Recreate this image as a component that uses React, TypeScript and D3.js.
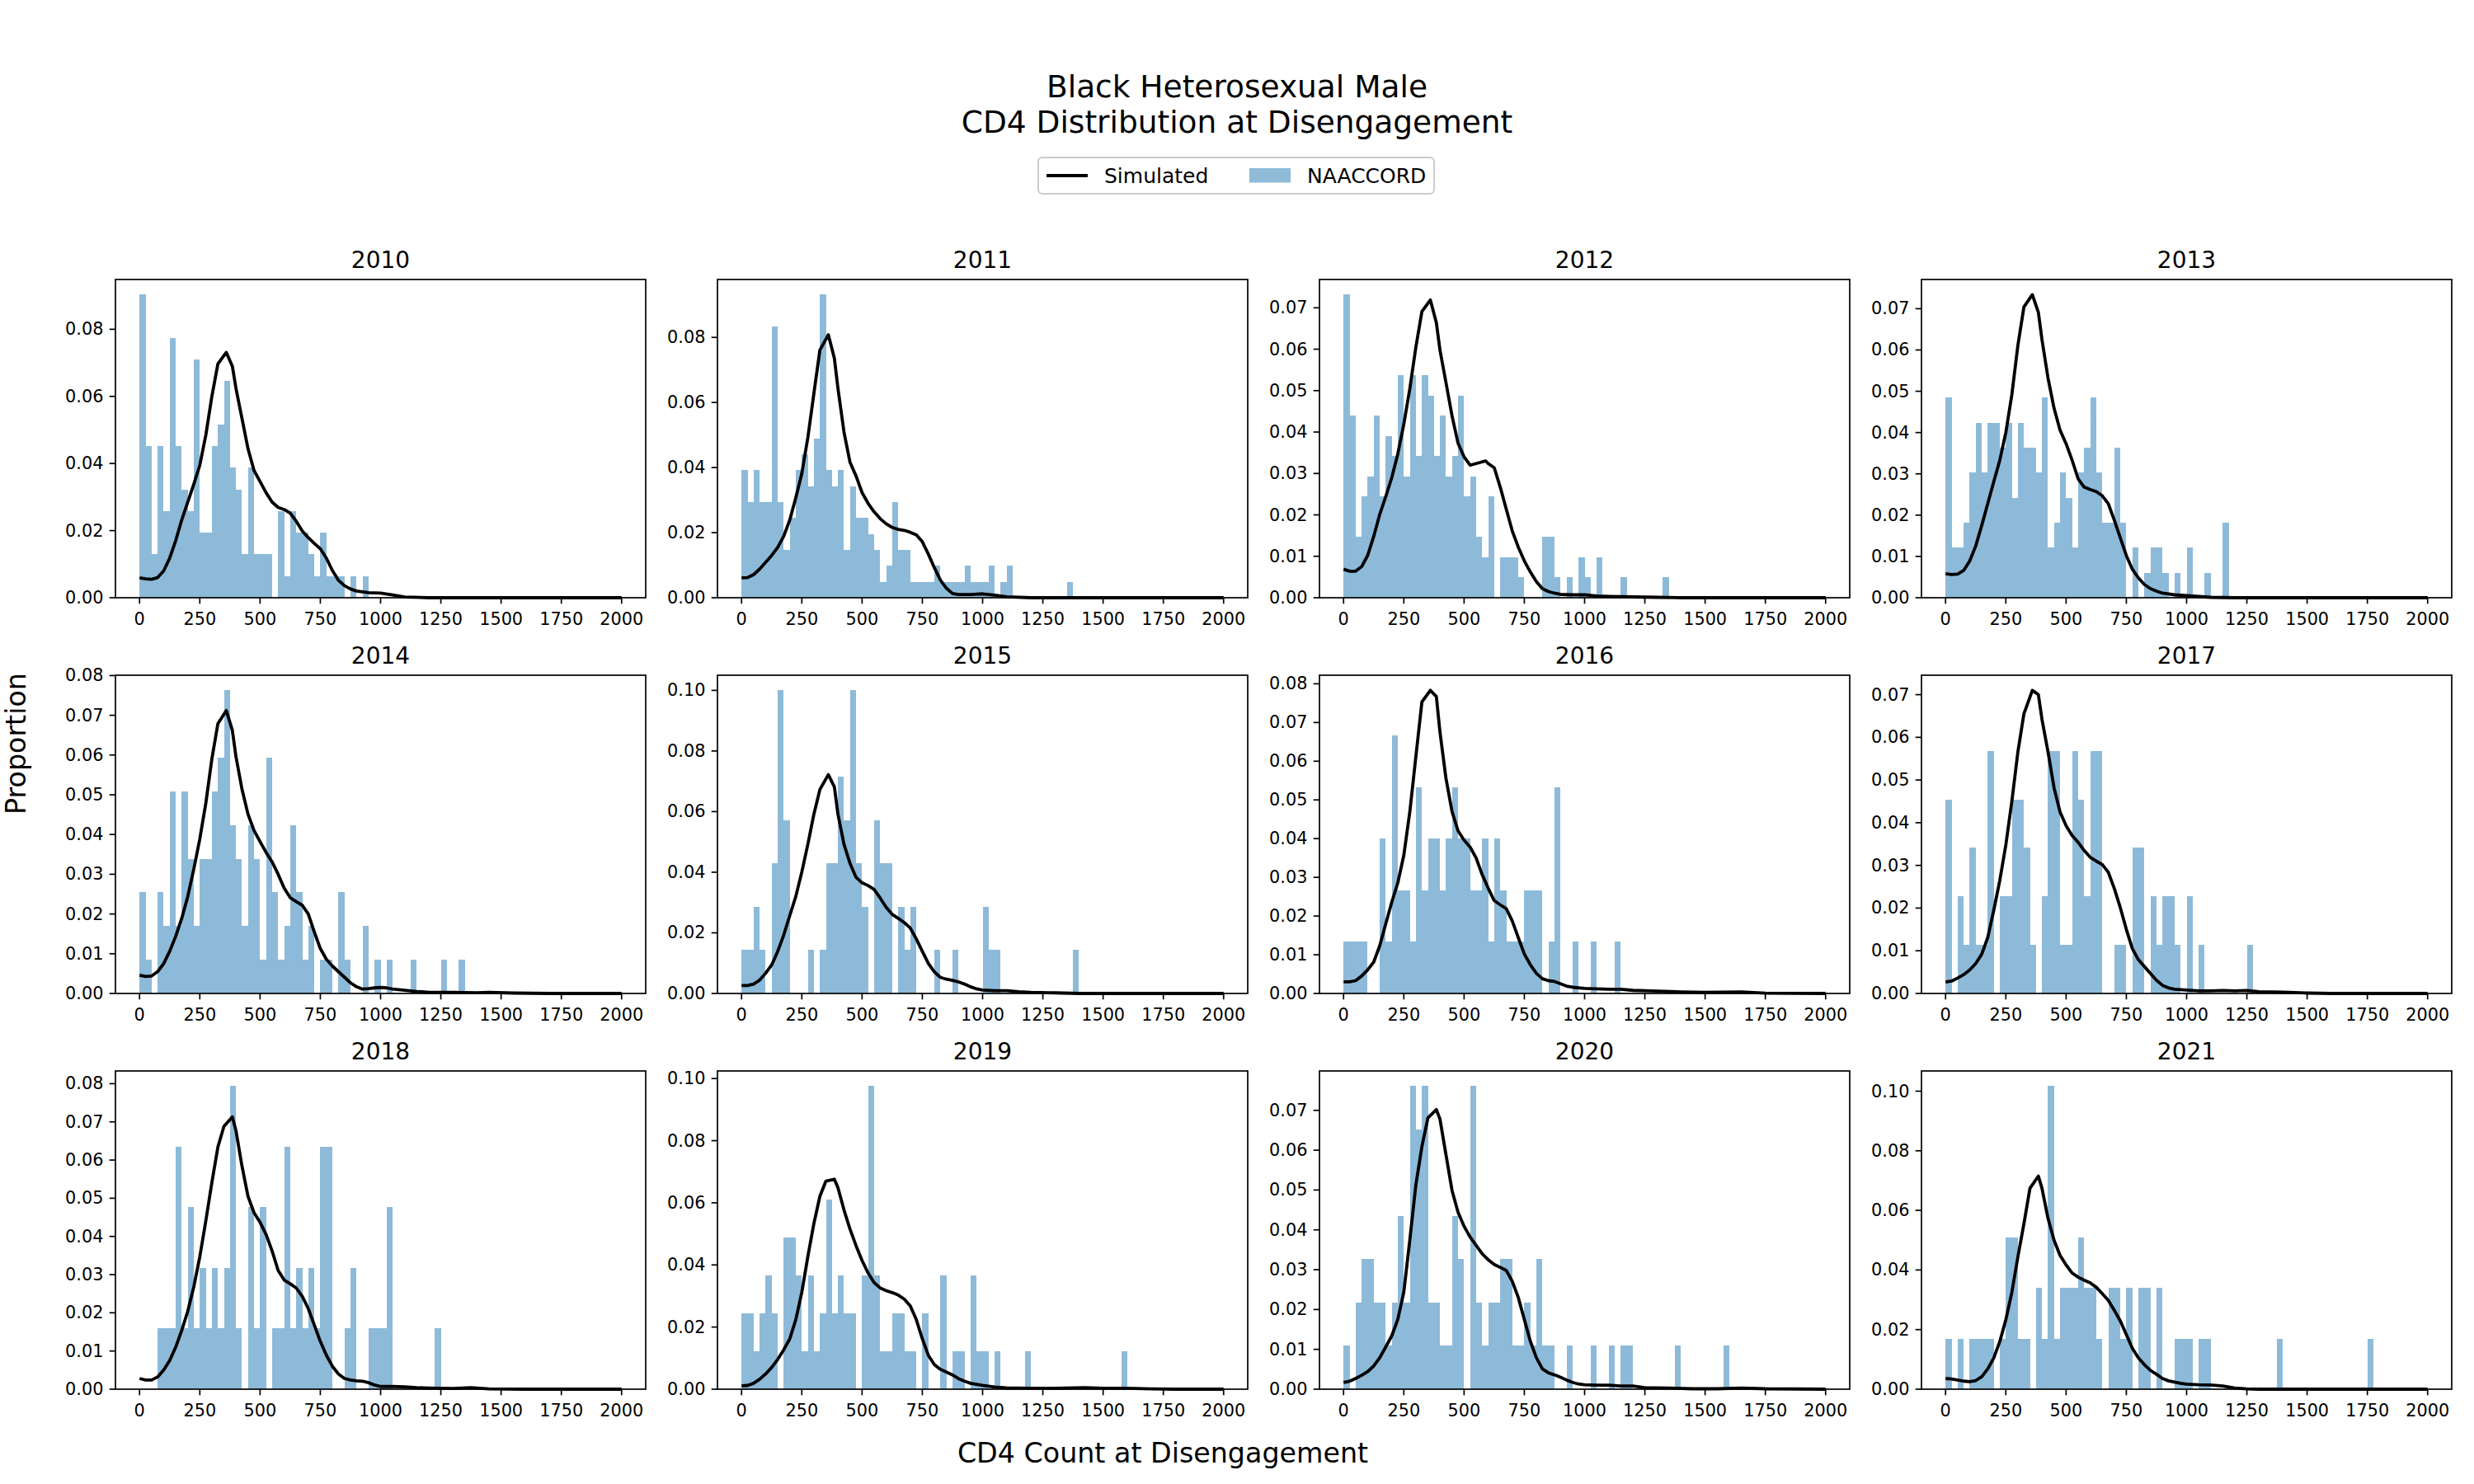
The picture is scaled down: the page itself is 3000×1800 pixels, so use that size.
import React from 'react';
import * as d3 from 'd3';

// histogram bins are 25 cells wide, starting at 0
const binWidth = 25;
const years = [2010, 2011, 2012, 2013, 2014, 2015, 2016, 2017, 2018, 2019, 2020, 2021];

// NAACCORD counts per bin
const naaccord2010 = [14,7,2,7,4,12,7,5,4,11, 3,3,7,8,10,6,5,2,6,2, 2,2,0,4,1,4,3,3,2,1, 3,1,1,1,0,1,0,1];
const naaccord2011 = [8,6,8,6,6,17,6,3,5,8, 9,7,10,19,8,7,8,3,7,5, 5,4,3,1,2,6,3,3,1,1, 1,1,2,1,1,1,1,2,1,1, 1,2,0,1,2,0,0,0,0,0, 0,0,0,0,1];
const naaccord2012 = [15,9,3,5,6,9,5,8,7,11, 6,11,7,11,10,7,9,6,7,10, 5,6,3,2,5,0,2,2,2,1, 0,0,0,3,3,1,0,1,0,2, 1,0,2,0,0,0,1,0,0,0, 0,0,0,1];
const naaccord2013 = [8,2,2,3,5,7,5,7,7,6, 7,4,7,6,6,5,8,2,3,5, 4,2,5,6,8,5,3,3,6,3, 0,2,0,1,2,2,1,0,1,0, 2,0,0,1,0,0,3];
const naaccord2014 = [3,1,0,3,2,6,2,6,4,2, 4,4,6,7,9,5,4,2,5,4, 1,7,3,1,2,5,3,1,2,0, 1,1,0,3,1,0,0,2,0,1, 0,1,0,0,0,1,0,0,0,0, 1,0,0,1];
const naaccord2015 = [1,1,2,1,0,3,7,4,0,0, 0,1,0,1,3,3,5,4,7,3, 2,0,4,3,3,0,2,1,2,0, 0,0,1,0,0,1,0,0,0,0, 2,1,1,0,0,0,0,0,0,0, 0,0,0,0,0,1];
const naaccord2016 = [1,1,1,1,0,0,3,1,5,2, 2,1,4,2,3,3,2,3,4,3, 3,2,2,3,1,3,2,1,1,1, 2,2,2,0,1,4,0,0,1,0, 0,1,0,0,0,1];
const naaccord2017 = [4,0,2,1,3,1,1,5,0,2, 2,4,4,3,1,0,2,5,5,1, 1,5,4,2,5,5,0,0,1,1, 0,3,3,0,2,1,2,2,1,0, 2,0,1,0,0,0,0,0,0,0, 1];
const naaccord2018 = [0,0,0,1,1,1,4,1,3,1, 2,1,2,1,2,5,1,0,3,1, 3,0,1,1,4,1,2,1,2,1, 4,4,0,0,1,2,0,0,1,1, 1,3,0,0,0,0,0,0,0,1];
const naaccord2019 = [2,2,1,2,3,2,0,4,4,3, 1,3,1,2,5,2,3,2,2,0, 3,8,3,1,1,2,2,1,1,0, 2,0,0,3,0,1,1,0,3,1, 1,0,1,0,0,0,0,1,0,0, 0,0,0,0,0,0,0,0,0,0, 0,0,0,1];
const naaccord2020 = [1,0,2,3,3,2,2,1,2,4, 2,7,6,7,2,2,1,1,4,3, 0,7,2,1,2,2,3,3,1,1, 2,1,3,1,1,0,0,1,0,0, 0,1,0,0,1,0,1,1,0,0, 0,0,0,0,0,1,0,0,0,0, 0,0,0,1];
const naaccord2021 = [1,0,1,0,1,1,1,1,0,1, 3,3,1,1,0,2,1,6,1,2, 2,2,3,2,2,1,0,2,2,1, 2,0,2,2,0,2,0,0,1,1, 1,0,1,1,0,0,0,0,0,0, 0,0,0,0,0,1,0,0,0,0, 0,0,0,0,0,0,0,0,0,0, 1];
const naaccordTotals = [155, 204, 205, 165, 118, 70, 75, 88, 63, 82, 92, 59];

// simulated density, [cd4, proportion]
const simulated2010 = [[0,.0059],[25,.0056],[50,.0055],[75,.006],[100,.008],[125,.0118],[150,.017],[175,.0232],[200,.0285],[225,.0338],[250,.0395],[275,.0485],[300,.06],[325,.0697],[360,.0731],[385,.069],[400,.0624],[425,.0534],[450,.0444],[475,.0379],[500,.0346],[525,.0313],[550,.0285],[575,.0269],[600,.0263],[625,.0252],[650,.0228],[675,.0199],[700,.0179],[725,.0162],[750,.0146],[775,.0118],[800,.0081],[825,.0052],[850,.0036],[875,.0026],[900,.002],[950,.0015],[1000,.0014],[1050,.0008],[1100,.0002],[1200,0],[2000,0]];
const simulated2011 = [[0,.0061],[25,.0062],[50,.0071],[75,.0088],[100,.0109],[125,.013],[150,.0155],[175,.0189],[200,.0239],[225,.0307],[250,.0382],[275,.0492],[300,.0627],[325,.0761],[360,.0808],[385,.0736],[400,.0643],[425,.0509],[450,.0416],[475,.0374],[500,.0323],[525,.029],[550,.0264],[575,.0243],[600,.0227],[625,.0216],[650,.021],[675,.0207],[700,.0201],[725,.0193],[750,.0172],[775,.0134],[800,.0092],[825,.0054],[850,.0029],[875,.0013],[900,.001],[950,.001],[1000,.0012],[1050,.0008],[1100,.0003],[1200,0],[2000,0]];
const simulated2012 = [[0,.0069],[25,.0064],[50,.0064],[75,.0075],[100,.0102],[125,.0148],[150,.0201],[175,.0244],[200,.029],[225,.0347],[250,.0419],[275,.0505],[300,.0605],[325,.0691],[360,.0719],[385,.0664],[400,.0598],[425,.0519],[450,.0439],[475,.0373],[500,.034],[525,.032],[550,.0324],[575,.0328],[590,.033],[600,.0324],[625,.0314],[650,.0267],[675,.0214],[700,.0161],[725,.0122],[750,.0089],[775,.0062],[800,.0039],[825,.0022],[850,.0015],[875,.0011],[900,.0008],[950,.0007],[1000,.0007],[1050,.0004],[1100,.0003],[1200,.0002],[1300,.0001],[1400,0],[2000,0]];
const simulated2013 = [[0,.0058],[25,.0056],[50,.0057],[75,.0066],[100,.0089],[125,.0125],[150,.0175],[175,.0228],[200,.0281],[225,.0333],[250,.04],[275,.0492],[300,.0611],[325,.0704],[360,.0734],[385,.0691],[400,.0625],[425,.0532],[450,.0459],[475,.0406],[500,.0373],[525,.0333],[550,.0288],[575,.0268],[600,.0262],[625,.0257],[650,.0247],[675,.0228],[700,.0188],[725,.0145],[750,.0102],[775,.0069],[800,.0048],[825,.0032],[850,.0022],[875,.0016],[900,.0011],[950,.0007],[1000,.0005],[1050,.0003],[1100,.0001],[1200,0],[2000,0]];
const simulated2014 = [[0,.0046],[25,.0043],[50,.0044],[75,.0055],[100,.0075],[125,.0106],[150,.0144],[175,.0189],[200,.0244],[225,.0313],[250,.0389],[275,.0479],[300,.059],[325,.0679],[340,.0693],[360,.0712],[385,.0662],[400,.0596],[425,.0514],[450,.0451],[475,.041],[500,.0382],[525,.0355],[550,.0331],[575,.03],[600,.0265],[625,.0241],[650,.0231],[675,.0222],[700,.02],[725,.0155],[750,.0113],[775,.0086],[800,.0069],[825,.0055],[850,.0041],[875,.0027],[900,.0017],[925,.0011],[950,.0012],[975,.0014],[1000,.0015],[1025,.0014],[1050,.0011],[1100,.0008],[1150,.0005],[1200,.0003],[1300,.0003],[1400,.0002],[1450,.0003],[1550,.0001],[1700,0],[2000,0]];
const simulated2015 = [[0,.0026],[25,.0026],[50,.0031],[75,.0044],[100,.0067],[125,.0094],[150,.0139],[175,.0193],[200,.0257],[225,.032],[250,.0401],[275,.0492],[300,.0591],[325,.0673],[360,.0722],[385,.0682],[400,.0591],[425,.0492],[450,.0429],[475,.0383],[500,.0365],[525,.0356],[550,.0343],[575,.0315],[600,.0284],[625,.0261],[650,.0248],[675,.0234],[700,.0216],[725,.018],[750,.0139],[775,.0099],[800,.0071],[825,.0053],[850,.0047],[875,.0043],[900,.0038],[925,.0031],[950,.0022],[975,.0015],[1000,.0011],[1050,.0009],[1100,.0009],[1150,.0006],[1200,.0004],[1300,.0002],[1400,0],[2000,0]];
const simulated2016 = [[0,.003],[25,.003],[50,.0033],[75,.0045],[100,.0061],[125,.0081],[150,.0123],[175,.018],[200,.0236],[225,.0286],[250,.0357],[275,.047],[300,.0612],[325,.0753],[360,.0783],[385,.0767],[400,.0675],[425,.0555],[450,.047],[475,.042],[500,.0396],[525,.0378],[550,.035],[575,.0307],[600,.0272],[625,.024],[650,.0229],[675,.0219],[700,.0187],[725,.0144],[750,.0102],[775,.0074],[800,.0052],[825,.0038],[850,.0033],[875,.0031],[900,.0025],[925,.0019],[950,.0016],[1000,.0013],[1050,.0012],[1100,.0011],[1150,.0011],[1200,.0008],[1300,.0006],[1400,.0004],[1500,.0003],[1650,.0004],[1750,.0001],[2000,0]];
const simulated2017 = [[0,.0027],[25,.0029],[50,.0036],[75,.0044],[100,.0055],[125,.007],[150,.0092],[175,.0131],[200,.0195],[225,.0265],[250,.0348],[275,.045],[300,.0566],[325,.0655],[360,.071],[385,.07],[400,.0642],[425,.0566],[450,.0482],[475,.0425],[500,.0393],[525,.037],[550,.0354],[575,.0335],[600,.0319],[625,.031],[650,.0302],[675,.0284],[700,.0246],[725,.0201],[750,.015],[775,.0105],[800,.0079],[825,.0063],[850,.0047],[875,.0031],[900,.0019],[925,.0013],[950,.001],[1000,.0008],[1050,.0006],[1100,.0006],[1150,.0007],[1200,.0006],[1250,.0007],[1300,.0004],[1400,.0003],[1500,.0001],[1600,0],[2000,0]];
const simulated2018 = [[0,.0028],[25,.0024],[50,.0024],[75,.0032],[100,.005],[125,.0075],[150,.011],[175,.0154],[200,.0204],[225,.0268],[250,.0347],[275,.0441],[300,.0541],[325,.0634],[350,.0688],[385,.0713],[400,.0677],[425,.0584],[450,.0505],[475,.0462],[500,.0437],[525,.0405],[550,.0362],[575,.0311],[600,.0286],[625,.0276],[650,.0265],[675,.0243],[700,.0211],[725,.0168],[750,.0125],[775,.0089],[800,.006],[825,.004],[850,.0028],[875,.0024],[900,.0022],[925,.0021],[950,.0017],[975,.0011],[1000,.0007],[1050,.0007],[1100,.0006],[1150,.0004],[1200,.0003],[1300,.0002],[1375,.0004],[1450,.0001],[1600,0],[2000,0]];
const simulated2019 = [[0,.0011],[25,.0012],[50,.0019],[75,.0032],[100,.0049],[125,.007],[150,.0096],[175,.0127],[200,.0162],[225,.0224],[250,.0312],[275,.0427],[300,.0533],[325,.0621],[350,.067],[385,.0676],[400,.0648],[425,.0577],[450,.0515],[475,.0462],[500,.0414],[525,.0374],[550,.0343],[575,.0326],[600,.0317],[625,.0311],[650,.0303],[675,.029],[700,.0268],[725,.0224],[750,.0162],[775,.0109],[800,.0079],[825,.0064],[850,.0055],[875,.0046],[900,.0034],[925,.0026],[950,.0019],[1000,.0012],[1050,.0007],[1100,.0004],[1200,.0003],[1300,.0003],[1425,.0005],[1500,.0003],[1600,.0003],[1700,.0001],[1800,0],[2000,0]];
const simulated2020 = [[0,.0017],[25,.002],[50,.0027],[75,.0035],[100,.0044],[125,.0058],[150,.0079],[175,.0106],[200,.0134],[225,.0175],[250,.0244],[275,.0375],[300,.0513],[325,.0609],[350,.0681],[385,.0702],[400,.0678],[425,.0588],[450,.0499],[475,.0444],[500,.0409],[525,.0382],[550,.0361],[575,.034],[600,.0325],[625,.0313],[650,.0306],[675,.0298],[700,.0271],[725,.023],[750,.0175],[775,.012],[800,.0079],[825,.0051],[850,.0041],[875,.0036],[900,.003],[925,.0023],[950,.0017],[975,.0013],[1000,.0011],[1050,.001],[1100,.001],[1150,.0008],[1200,.0008],[1250,.0004],[1350,.0003],[1450,.0001],[1550,.0001],[1650,.0003],[1750,.0001],[2000,0]];
const simulated2021 = [[0,.0036],[25,.0034],[50,.0031],[75,.0027],[100,.0025],[125,.0029],[150,.0042],[175,.0068],[200,.0105],[225,.016],[250,.0233],[275,.0325],[300,.0444],[325,.0555],[350,.0674],[385,.0715],[400,.0674],[425,.0573],[450,.05],[475,.0449],[500,.0417],[525,.039],[550,.0376],[575,.0366],[600,.0357],[625,.0342],[650,.0321],[675,.0298],[700,.0265],[725,.0229],[750,.0183],[775,.0137],[800,.0105],[825,.0082],[850,.0063],[875,.005],[900,.0036],[925,.0028],[950,.0024],[975,.002],[1000,.0017],[1050,.0015],[1100,.0014],[1150,.0011],[1200,.0004],[1250,.0001],[1300,0],[2000,0]];

const xTickValues = [0, 250, 500, 750, 1000, 1250, 1500, 1750, 2000];

const naaccordCounts = [naaccord2010, naaccord2011, naaccord2012, naaccord2013, naaccord2014, naaccord2015,
  naaccord2016, naaccord2017, naaccord2018, naaccord2019, naaccord2020, naaccord2021];
const simulatedCurves = [simulated2010, simulated2011, simulated2012, simulated2013, simulated2014, simulated2015,
  simulated2016, simulated2017, simulated2018, simulated2019, simulated2020, simulated2021];

const W = 3000;
const H = 1800;
const colLeft = [140, 870, 1600, 2330];
const rowTop = [339, 819, 1299];
const pw = 643;
const ph = 386;
const font = 'DejaVu Sans';
const barColor = '#1f77b4';
const lineWidth = 3.8;

// same idea as matplotlib's MaxNLocator: first nice step >= span / 9
const niceStep = (span) => {
  const raw = span / 9;
  const mag = Math.pow(10, Math.floor(Math.log10(raw)));
  return [1, 2, 2.5, 5, 10].map(s => s * mag).find(s => s >= raw - 1e-12);
};

const Panel = ({ idx }) => {
  const year = years[idx];
  const counts = naaccordCounts[idx];
  const total = naaccordTotals[idx];
  const curve = simulatedCurves[idx];
  const left = colLeft[idx % 4];
  const top = rowTop[Math.floor(idx / 4)];

  const props = counts.map(c => c / total);
  const yMax = Math.max(d3.max(props), d3.max(curve, d => d[1])) * 1.05;

  const x = d3.scaleLinear().domain([-100, 2100]).range([0, pw]);
  const y = d3.scaleLinear().domain([0, yMax]).range([ph, 0]);

  const step = niceStep(yMax);
  const yTicks = d3.range(0, yMax + step * 1e-6, step);

  const line = d3.line().x(d => x(d[0])).y(d => y(d[1]));

  return (
    <g transform={`translate(${left},${top})`}>
      <g opacity={0.5}>
        {props.map((p, i) => p > 0 && (
          <rect key={i} x={x(i * binWidth)} y={y(p)} width={x((i + 1) * binWidth) - x(i * binWidth)}
            height={ph - y(p)} fill={barColor} shapeRendering="crispEdges" />
        ))}
      </g>
      <path d={line(curve)} fill="none" stroke="#000" strokeWidth={lineWidth} strokeLinejoin="round" />
      <rect x={0} y={0} width={pw} height={ph} fill="none" stroke="#000" strokeWidth={1.7} />
      {xTickValues.map(t => (
        <g key={t} transform={`translate(${x(t)},${ph})`}>
          <line y1={0} y2={7.3} stroke="#000" strokeWidth={1.7} />
          <text y={33} textAnchor="middle" fontSize={20.8} fontFamily={font}>{t}</text>
        </g>
      ))}
      {yTicks.map(t => (
        <g key={t} transform={`translate(0,${y(t)})`}>
          <line x1={-7.3} x2={0} stroke="#000" strokeWidth={1.7} />
          <text x={-14.6} textAnchor="end" dominantBaseline="central" fontSize={20.8} fontFamily={font}>
            {d3.format('.2f')(t)}
          </text>
        </g>
      ))}
      <text x={pw / 2} y={-14} textAnchor="middle" fontSize={28} fontFamily={font}>{year}</text>
    </g>
  );
};

const Legend = () => (
  <g fontFamily={font} fontSize={25}>
    <rect x={1259} y={191} width={480} height={44} rx={5} fill="#fff" fillOpacity={0.8} stroke="#cccccc" strokeWidth={2} />
    <line x1={1269} x2={1319} y1={213} y2={213} stroke="#000" strokeWidth={lineWidth} />
    <text x={1339} y={213} dominantBaseline="central">Simulated</text>
    <rect x={1515} y={204} width={50} height={17.5} fill={barColor} fillOpacity={0.5} />
    <text x={1585} y={213} dominantBaseline="central">NAACCORD</text>
  </g>
);

export default function App() {
  return (
    <svg width={W} height={H} viewBox={`0 0 ${W} ${H}`}
      style={{ position: 'absolute', left: 0, top: 0, background: '#fff' }}>
      <rect width={W} height={H} fill="#fff" />
      <text x={1500} y={118} textAnchor="middle" fontSize={37.5} fontFamily={font}>Black Heterosexual Male</text>
      <text x={1500} y={161} textAnchor="middle" fontSize={37.5} fontFamily={font}>CD4 Distribution at Disengagement</text>
      <Legend />
      {years.map((yr, i) => <Panel key={yr} idx={i} />)}
      <text x={1410} y={1774} textAnchor="middle" fontSize={33.3} fontFamily={font}>CD4 Count at Disengagement</text>
      <text transform="translate(19,902) rotate(-90)" textAnchor="middle" dominantBaseline="central"
        fontSize={33.3} fontFamily={font}>Proportion</text>
    </svg>
  );
}
